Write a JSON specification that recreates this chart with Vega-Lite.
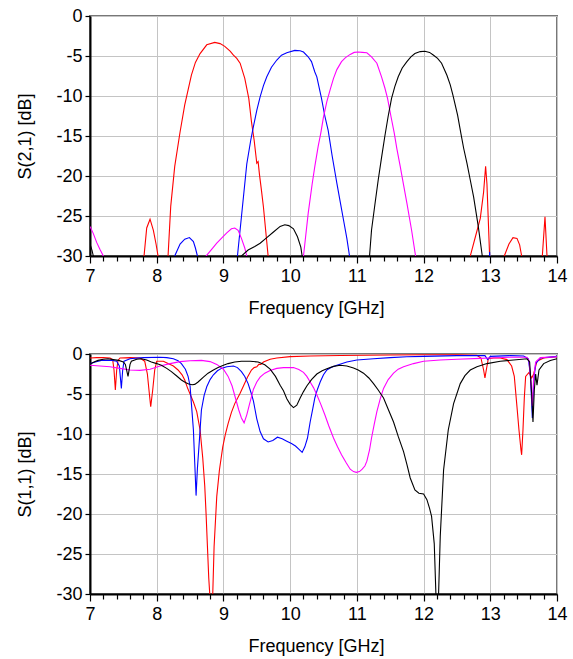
{
  "$schema": "https://vega.github.io/schema/vega-lite/v6.json",
  "autosize": {"type": "pad"},
  "padding": {"top": 6, "left": 15, "right": 10, "bottom": 5},
  "background": "white",
  "spacing": 98,
  "bounds": "flush",
  "config": {
    "font": "Liberation Sans",
    "view": {"stroke": "#777777", "strokeWidth": 2},
    "axis": {
      "labelFont": "Liberation Sans", "labelFontSize": 18, "labelColor": "#000000",
      "titleFont": "Liberation Sans", "titleFontSize": 18, "titleFontWeight": "normal", "titleColor": "#000000",
      "gridColor": "#c4c4c4", "gridWidth": 1, "domainColor": "#000000", "domainWidth": 2,
      "tickColor": "#000000", "tickWidth": 1.2
    }
  },
  "datasets": {
    "s21": [
      {"f": 7.0, "db": -40, "s": "f1"}, {"f": 7.5, "db": -40, "s": "f1"}, {"f": 7.81, "db": -30, "s": "f1"}, {"f": 7.85, "db": -26.5, "s": "f1"}, {"f": 7.9, "db": -25.4, "s": "f1"}, {"f": 7.95, "db": -26.8, "s": "f1"}, {"f": 7.99, "db": -28.5, "s": "f1"}, {"f": 8.02, "db": -30, "s": "f1"}, {"f": 8.1, "db": -40, "s": "f1"}, {"f": 8.17, "db": -30, "s": "f1"}, {"f": 8.21, "db": -23.8, "s": "f1"}, {"f": 8.27, "db": -18.8, "s": "f1"}, {"f": 8.35, "db": -14.5, "s": "f1"}, {"f": 8.42, "db": -11.1, "s": "f1"}, {"f": 8.52, "db": -7.4, "s": "f1"}, {"f": 8.58, "db": -5.8, "s": "f1"}, {"f": 8.65, "db": -4.7, "s": "f1"}, {"f": 8.75, "db": -3.6, "s": "f1"}, {"f": 8.87, "db": -3.3, "s": "f1"}, {"f": 8.95, "db": -3.45, "s": "f1"}, {"f": 9.02, "db": -3.8, "s": "f1"}, {"f": 9.1, "db": -4.4, "s": "f1"}, {"f": 9.15, "db": -4.9, "s": "f1"}, {"f": 9.2, "db": -5.3, "s": "f1"}, {"f": 9.25, "db": -5.9, "s": "f1"}, {"f": 9.32, "db": -7.8, "s": "f1"}, {"f": 9.38, "db": -10.3, "s": "f1"}, {"f": 9.42, "db": -13.2, "s": "f1"}, {"f": 9.46, "db": -15.5, "s": "f1"}, {"f": 9.5, "db": -18.4, "s": "f1"}, {"f": 9.52, "db": -18.2, "s": "f1"}, {"f": 9.54, "db": -19.8, "s": "f1"}, {"f": 9.57, "db": -21.8, "s": "f1"}, {"f": 9.6, "db": -23.9, "s": "f1"}, {"f": 9.67, "db": -30, "s": "f1"}, {"f": 9.8, "db": -40, "s": "f1"}, {"f": 12.6, "db": -40, "s": "f1"}, {"f": 12.7, "db": -30, "s": "f1"}, {"f": 12.78, "db": -27.5, "s": "f1"}, {"f": 12.85, "db": -25.3, "s": "f1"}, {"f": 12.9, "db": -22, "s": "f1"}, {"f": 12.93, "db": -18.8, "s": "f1"}, {"f": 12.95, "db": -21, "s": "f1"}, {"f": 12.99, "db": -30, "s": "f1"}, {"f": 13.1, "db": -40, "s": "f1"}, {"f": 13.21, "db": -30, "s": "f1"}, {"f": 13.28, "db": -28.5, "s": "f1"}, {"f": 13.34, "db": -27.7, "s": "f1"}, {"f": 13.4, "db": -27.8, "s": "f1"}, {"f": 13.44, "db": -28.6, "s": "f1"}, {"f": 13.47, "db": -30, "s": "f1"}, {"f": 13.6, "db": -40, "s": "f1"}, {"f": 13.78, "db": -30, "s": "f1"}, {"f": 13.82, "db": -25.1, "s": "f1"}, {"f": 13.85, "db": -30, "s": "f1"}, {"f": 13.9, "db": -40, "s": "f1"}, {"f": 14.0, "db": -40, "s": "f1"},

      {"f": 7.0, "db": -40, "s": "f2"}, {"f": 8.1, "db": -40, "s": "f2"}, {"f": 8.27, "db": -30, "s": "f2"}, {"f": 8.35, "db": -28.5, "s": "f2"}, {"f": 8.42, "db": -27.9, "s": "f2"}, {"f": 8.49, "db": -27.7, "s": "f2"}, {"f": 8.55, "db": -28.2, "s": "f2"}, {"f": 8.58, "db": -29, "s": "f2"}, {"f": 8.61, "db": -30, "s": "f2"}, {"f": 8.9, "db": -40, "s": "f2"}, {"f": 9.21, "db": -30, "s": "f2"}, {"f": 9.27, "db": -25.1, "s": "f2"}, {"f": 9.35, "db": -18.5, "s": "f2"}, {"f": 9.41, "db": -15.5, "s": "f2"}, {"f": 9.45, "db": -13.8, "s": "f2"}, {"f": 9.5, "db": -11.8, "s": "f2"}, {"f": 9.55, "db": -10.1, "s": "f2"}, {"f": 9.6, "db": -8.7, "s": "f2"}, {"f": 9.65, "db": -7.6, "s": "f2"}, {"f": 9.72, "db": -6.4, "s": "f2"}, {"f": 9.8, "db": -5.5, "s": "f2"}, {"f": 9.87, "db": -4.9, "s": "f2"}, {"f": 9.95, "db": -4.6, "s": "f2"}, {"f": 10.07, "db": -4.3, "s": "f2"}, {"f": 10.15, "db": -4.35, "s": "f2"}, {"f": 10.2, "db": -4.5, "s": "f2"}, {"f": 10.27, "db": -5.1, "s": "f2"}, {"f": 10.32, "db": -5.7, "s": "f2"}, {"f": 10.37, "db": -7.0, "s": "f2"}, {"f": 10.4, "db": -7.6, "s": "f2"}, {"f": 10.47, "db": -10.3, "s": "f2"}, {"f": 10.52, "db": -12.5, "s": "f2"}, {"f": 10.57, "db": -14.3, "s": "f2"}, {"f": 10.63, "db": -17.5, "s": "f2"}, {"f": 10.7, "db": -20.9, "s": "f2"}, {"f": 10.75, "db": -23.2, "s": "f2"}, {"f": 10.8, "db": -25.5, "s": "f2"}, {"f": 10.85, "db": -27.8, "s": "f2"}, {"f": 10.89, "db": -30, "s": "f2"}, {"f": 11.2, "db": -40, "s": "f2"}, {"f": 12.95, "db": -40, "s": "f2"}, {"f": 12.99, "db": -29.5, "s": "f2"}, {"f": 13.02, "db": -40, "s": "f2"}, {"f": 14.0, "db": -40, "s": "f2"},

      {"f": 7.0, "db": -26.3, "s": "f3"}, {"f": 7.05, "db": -27.2, "s": "f3"}, {"f": 7.1, "db": -28.3, "s": "f3"}, {"f": 7.15, "db": -29.2, "s": "f3"}, {"f": 7.2, "db": -30, "s": "f3"}, {"f": 7.5, "db": -40, "s": "f3"}, {"f": 8.6, "db": -40, "s": "f3"}, {"f": 8.74, "db": -30, "s": "f3"}, {"f": 8.82, "db": -29.2, "s": "f3"}, {"f": 8.9, "db": -28.4, "s": "f3"}, {"f": 8.98, "db": -27.7, "s": "f3"}, {"f": 9.05, "db": -27.1, "s": "f3"}, {"f": 9.12, "db": -26.6, "s": "f3"}, {"f": 9.17, "db": -26.5, "s": "f3"}, {"f": 9.22, "db": -26.8, "s": "f3"}, {"f": 9.27, "db": -27.8, "s": "f3"}, {"f": 9.32, "db": -29, "s": "f3"}, {"f": 9.35, "db": -30, "s": "f3"}, {"f": 9.7, "db": -40, "s": "f3"}, {"f": 10.2, "db": -30, "s": "f3"}, {"f": 10.27, "db": -24.7, "s": "f3"}, {"f": 10.33, "db": -21, "s": "f3"}, {"f": 10.37, "db": -18.8, "s": "f3"}, {"f": 10.42, "db": -16.3, "s": "f3"}, {"f": 10.46, "db": -14.6, "s": "f3"}, {"f": 10.5, "db": -12.6, "s": "f3"}, {"f": 10.55, "db": -10.7, "s": "f3"}, {"f": 10.6, "db": -9.2, "s": "f3"}, {"f": 10.65, "db": -7.8, "s": "f3"}, {"f": 10.7, "db": -6.7, "s": "f3"}, {"f": 10.77, "db": -5.7, "s": "f3"}, {"f": 10.83, "db": -5.2, "s": "f3"}, {"f": 10.9, "db": -4.8, "s": "f3"}, {"f": 10.96, "db": -4.55, "s": "f3"}, {"f": 11.02, "db": -4.5, "s": "f3"}, {"f": 11.08, "db": -4.55, "s": "f3"}, {"f": 11.15, "db": -4.6, "s": "f3"}, {"f": 11.22, "db": -5.1, "s": "f3"}, {"f": 11.3, "db": -5.9, "s": "f3"}, {"f": 11.37, "db": -7.6, "s": "f3"}, {"f": 11.42, "db": -9.0, "s": "f3"}, {"f": 11.46, "db": -10.3, "s": "f3"}, {"f": 11.51, "db": -12.5, "s": "f3"}, {"f": 11.56, "db": -14.6, "s": "f3"}, {"f": 11.6, "db": -16.6, "s": "f3"}, {"f": 11.65, "db": -18.8, "s": "f3"}, {"f": 11.7, "db": -21.1, "s": "f3"}, {"f": 11.75, "db": -23.4, "s": "f3"}, {"f": 11.82, "db": -26.75, "s": "f3"}, {"f": 11.88, "db": -30, "s": "f3"}, {"f": 12.2, "db": -40, "s": "f3"}, {"f": 14.0, "db": -40, "s": "f3"},

      {"f": 7.0, "db": -28.5, "s": "f4"}, {"f": 7.03, "db": -29.3, "s": "f4"}, {"f": 7.05, "db": -30, "s": "f4"}, {"f": 7.3, "db": -40, "s": "f4"}, {"f": 9.1, "db": -40, "s": "f4"}, {"f": 9.27, "db": -30, "s": "f4"}, {"f": 9.37, "db": -29.25, "s": "f4"}, {"f": 9.47, "db": -28.8, "s": "f4"}, {"f": 9.55, "db": -28.4, "s": "f4"}, {"f": 9.65, "db": -27.7, "s": "f4"}, {"f": 9.75, "db": -27.0, "s": "f4"}, {"f": 9.85, "db": -26.3, "s": "f4"}, {"f": 9.92, "db": -26.1, "s": "f4"}, {"f": 9.98, "db": -26.2, "s": "f4"}, {"f": 10.05, "db": -26.6, "s": "f4"}, {"f": 10.11, "db": -27.6, "s": "f4"}, {"f": 10.16, "db": -28.9, "s": "f4"}, {"f": 10.18, "db": -30, "s": "f4"}, {"f": 10.6, "db": -40, "s": "f4"}, {"f": 11.19, "db": -30, "s": "f4"}, {"f": 11.22, "db": -26.75, "s": "f4"}, {"f": 11.27, "db": -23.6, "s": "f4"}, {"f": 11.32, "db": -20.5, "s": "f4"}, {"f": 11.37, "db": -17.7, "s": "f4"}, {"f": 11.42, "db": -15.0, "s": "f4"}, {"f": 11.47, "db": -12.5, "s": "f4"}, {"f": 11.52, "db": -10.3, "s": "f4"}, {"f": 11.57, "db": -8.8, "s": "f4"}, {"f": 11.62, "db": -7.6, "s": "f4"}, {"f": 11.68, "db": -6.5, "s": "f4"}, {"f": 11.75, "db": -5.7, "s": "f4"}, {"f": 11.81, "db": -5.1, "s": "f4"}, {"f": 11.87, "db": -4.7, "s": "f4"}, {"f": 11.95, "db": -4.45, "s": "f4"}, {"f": 12.02, "db": -4.4, "s": "f4"}, {"f": 12.09, "db": -4.55, "s": "f4"}, {"f": 12.15, "db": -4.9, "s": "f4"}, {"f": 12.21, "db": -5.3, "s": "f4"}, {"f": 12.27, "db": -5.9, "s": "f4"}, {"f": 12.35, "db": -7.4, "s": "f4"}, {"f": 12.4, "db": -8.6, "s": "f4"}, {"f": 12.44, "db": -9.9, "s": "f4"}, {"f": 12.51, "db": -12.4, "s": "f4"}, {"f": 12.56, "db": -14.7, "s": "f4"}, {"f": 12.6, "db": -16.5, "s": "f4"}, {"f": 12.65, "db": -18.4, "s": "f4"}, {"f": 12.7, "db": -20.5, "s": "f4"}, {"f": 12.75, "db": -22.6, "s": "f4"}, {"f": 12.82, "db": -26.3, "s": "f4"}, {"f": 12.88, "db": -30, "s": "f4"}, {"f": 13.2, "db": -40, "s": "f4"}, {"f": 14.0, "db": -40, "s": "f4"}
    ],
    "s11": [
      {"f": 7.0, "db": -0.5, "s": "f1"}, {"f": 7.1, "db": -0.45, "s": "f1"}, {"f": 7.2, "db": -0.45, "s": "f1"}, {"f": 7.3, "db": -0.5, "s": "f1"}, {"f": 7.34, "db": -0.7, "s": "f1"}, {"f": 7.36, "db": -2.0, "s": "f1"}, {"f": 7.38, "db": -4.5, "s": "f1"}, {"f": 7.4, "db": -2.0, "s": "f1"}, {"f": 7.42, "db": -0.8, "s": "f1"}, {"f": 7.45, "db": -0.5, "s": "f1"}, {"f": 7.6, "db": -0.45, "s": "f1"}, {"f": 7.75, "db": -0.5, "s": "f1"}, {"f": 7.82, "db": -0.9, "s": "f1"}, {"f": 7.86, "db": -2.5, "s": "f1"}, {"f": 7.89, "db": -5.0, "s": "f1"}, {"f": 7.91, "db": -6.6, "s": "f1"}, {"f": 7.94, "db": -4.5, "s": "f1"}, {"f": 7.97, "db": -2.0, "s": "f1"}, {"f": 8.0, "db": -0.9, "s": "f1"}, {"f": 8.1, "db": -0.9, "s": "f1"}, {"f": 8.17, "db": -1.2, "s": "f1"}, {"f": 8.25, "db": -1.5, "s": "f1"}, {"f": 8.32, "db": -2.0, "s": "f1"}, {"f": 8.38, "db": -2.6, "s": "f1"}, {"f": 8.42, "db": -3.25, "s": "f1"}, {"f": 8.46, "db": -4.2, "s": "f1"}, {"f": 8.5, "db": -5.0, "s": "f1"}, {"f": 8.55, "db": -6.0, "s": "f1"}, {"f": 8.6, "db": -7.2, "s": "f1"}, {"f": 8.65, "db": -9.5, "s": "f1"}, {"f": 8.69, "db": -13.0, "s": "f1"}, {"f": 8.72, "db": -16.5, "s": "f1"}, {"f": 8.74, "db": -20, "s": "f1"}, {"f": 8.76, "db": -24, "s": "f1"}, {"f": 8.78, "db": -28, "s": "f1"}, {"f": 8.795, "db": -30, "s": "f1"}, {"f": 8.81, "db": -35, "s": "f1"}, {"f": 8.825, "db": -35, "s": "f1"}, {"f": 8.84, "db": -30, "s": "f1"}, {"f": 8.86, "db": -24.1, "s": "f1"}, {"f": 8.9, "db": -17.8, "s": "f1"}, {"f": 8.94, "db": -14.5, "s": "f1"}, {"f": 8.99, "db": -11.6, "s": "f1"}, {"f": 9.03, "db": -10.0, "s": "f1"}, {"f": 9.07, "db": -8.7, "s": "f1"}, {"f": 9.12, "db": -7.3, "s": "f1"}, {"f": 9.17, "db": -6.2, "s": "f1"}, {"f": 9.25, "db": -4.9, "s": "f1"}, {"f": 9.3, "db": -4.0, "s": "f1"}, {"f": 9.36, "db": -2.9, "s": "f1"}, {"f": 9.42, "db": -2.0, "s": "f1"}, {"f": 9.46, "db": -1.7, "s": "f1"}, {"f": 9.5, "db": -1.6, "s": "f1"}, {"f": 9.53, "db": -1.3, "s": "f1"}, {"f": 9.56, "db": -1.3, "s": "f1"}, {"f": 9.6, "db": -1.0, "s": "f1"}, {"f": 9.7, "db": -0.65, "s": "f1"}, {"f": 9.8, "db": -0.5, "s": "f1"}, {"f": 10.0, "db": -0.33, "s": "f1"}, {"f": 10.3, "db": -0.25, "s": "f1"}, {"f": 10.75, "db": -0.18, "s": "f1"}, {"f": 11.5, "db": -0.12, "s": "f1"}, {"f": 12.0, "db": -0.1, "s": "f1"}, {"f": 12.5, "db": -0.1, "s": "f1"}, {"f": 12.8, "db": -0.15, "s": "f1"}, {"f": 12.86, "db": -0.5, "s": "f1"}, {"f": 12.9, "db": -2.0, "s": "f1"}, {"f": 12.92, "db": -3.0, "s": "f1"}, {"f": 12.94, "db": -2.0, "s": "f1"}, {"f": 12.97, "db": -0.6, "s": "f1"}, {"f": 13.05, "db": -0.5, "s": "f1"}, {"f": 13.15, "db": -0.5, "s": "f1"}, {"f": 13.25, "db": -0.7, "s": "f1"}, {"f": 13.32, "db": -1.5, "s": "f1"}, {"f": 13.36, "db": -2.8, "s": "f1"}, {"f": 13.4, "db": -6.6, "s": "f1"}, {"f": 13.43, "db": -9.5, "s": "f1"}, {"f": 13.46, "db": -12.0, "s": "f1"}, {"f": 13.47, "db": -12.6, "s": "f1"}, {"f": 13.49, "db": -9.5, "s": "f1"}, {"f": 13.51, "db": -5.5, "s": "f1"}, {"f": 13.53, "db": -2.8, "s": "f1"}, {"f": 13.58, "db": -2.3, "s": "f1"}, {"f": 13.62, "db": -3.0, "s": "f1"}, {"f": 13.65, "db": -2.5, "s": "f1"}, {"f": 13.7, "db": -0.9, "s": "f1"}, {"f": 13.8, "db": -0.5, "s": "f1"}, {"f": 14.0, "db": -0.35, "s": "f1"},

      {"f": 7.0, "db": -1.2, "s": "f2"}, {"f": 7.08, "db": -1.0, "s": "f2"}, {"f": 7.17, "db": -0.8, "s": "f2"}, {"f": 7.33, "db": -0.8, "s": "f2"}, {"f": 7.4, "db": -0.9, "s": "f2"}, {"f": 7.44, "db": -1.5, "s": "f2"}, {"f": 7.47, "db": -4.3, "s": "f2"}, {"f": 7.49, "db": -2.0, "s": "f2"}, {"f": 7.51, "db": -0.9, "s": "f2"}, {"f": 7.6, "db": -0.6, "s": "f2"}, {"f": 7.67, "db": -0.54, "s": "f2"}, {"f": 7.8, "db": -0.45, "s": "f2"}, {"f": 8.05, "db": -0.4, "s": "f2"}, {"f": 8.15, "db": -0.45, "s": "f2"}, {"f": 8.25, "db": -0.6, "s": "f2"}, {"f": 8.32, "db": -0.85, "s": "f2"}, {"f": 8.37, "db": -1.2, "s": "f2"}, {"f": 8.43, "db": -1.9, "s": "f2"}, {"f": 8.47, "db": -2.8, "s": "f2"}, {"f": 8.5, "db": -4.0, "s": "f2"}, {"f": 8.52, "db": -6.2, "s": "f2"}, {"f": 8.55, "db": -9.5, "s": "f2"}, {"f": 8.57, "db": -13.6, "s": "f2"}, {"f": 8.59, "db": -17.7, "s": "f2"}, {"f": 8.61, "db": -14.3, "s": "f2"}, {"f": 8.64, "db": -10.75, "s": "f2"}, {"f": 8.67, "db": -7.0, "s": "f2"}, {"f": 8.71, "db": -5.2, "s": "f2"}, {"f": 8.75, "db": -4.1, "s": "f2"}, {"f": 8.8, "db": -3.2, "s": "f2"}, {"f": 8.85, "db": -2.6, "s": "f2"}, {"f": 8.91, "db": -2.1, "s": "f2"}, {"f": 8.97, "db": -1.8, "s": "f2"}, {"f": 9.05, "db": -1.6, "s": "f2"}, {"f": 9.15, "db": -1.5, "s": "f2"}, {"f": 9.21, "db": -1.7, "s": "f2"}, {"f": 9.27, "db": -2.2, "s": "f2"}, {"f": 9.32, "db": -2.8, "s": "f2"}, {"f": 9.37, "db": -3.7, "s": "f2"}, {"f": 9.42, "db": -5.0, "s": "f2"}, {"f": 9.45, "db": -5.9, "s": "f2"}, {"f": 9.5, "db": -8.1, "s": "f2"}, {"f": 9.55, "db": -9.7, "s": "f2"}, {"f": 9.6, "db": -10.6, "s": "f2"}, {"f": 9.67, "db": -11.0, "s": "f2"}, {"f": 9.74, "db": -10.8, "s": "f2"}, {"f": 9.81, "db": -10.4, "s": "f2"}, {"f": 9.88, "db": -10.6, "s": "f2"}, {"f": 9.95, "db": -10.9, "s": "f2"}, {"f": 10.02, "db": -11.2, "s": "f2"}, {"f": 10.08, "db": -11.5, "s": "f2"}, {"f": 10.13, "db": -11.9, "s": "f2"}, {"f": 10.18, "db": -12.3, "s": "f2"}, {"f": 10.22, "db": -11.6, "s": "f2"}, {"f": 10.26, "db": -10.5, "s": "f2"}, {"f": 10.3, "db": -8.5, "s": "f2"}, {"f": 10.34, "db": -6.8, "s": "f2"}, {"f": 10.37, "db": -5.5, "s": "f2"}, {"f": 10.41, "db": -4.4, "s": "f2"}, {"f": 10.45, "db": -3.5, "s": "f2"}, {"f": 10.5, "db": -2.6, "s": "f2"}, {"f": 10.55, "db": -2.0, "s": "f2"}, {"f": 10.62, "db": -1.65, "s": "f2"}, {"f": 10.7, "db": -1.4, "s": "f2"}, {"f": 10.85, "db": -1.0, "s": "f2"}, {"f": 11.0, "db": -0.75, "s": "f2"}, {"f": 11.25, "db": -0.6, "s": "f2"}, {"f": 11.5, "db": -0.45, "s": "f2"}, {"f": 11.75, "db": -0.35, "s": "f2"}, {"f": 12.0, "db": -0.3, "s": "f2"}, {"f": 12.5, "db": -0.2, "s": "f2"}, {"f": 12.92, "db": -0.2, "s": "f2"}, {"f": 12.96, "db": -0.7, "s": "f2"}, {"f": 13.0, "db": -0.3, "s": "f2"}, {"f": 13.3, "db": -0.2, "s": "f2"}, {"f": 13.5, "db": -0.25, "s": "f2"}, {"f": 13.57, "db": -0.6, "s": "f2"}, {"f": 13.6, "db": -2.5, "s": "f2"}, {"f": 13.62, "db": -6.0, "s": "f2"}, {"f": 13.63, "db": -8.0, "s": "f2"}, {"f": 13.65, "db": -3.5, "s": "f2"}, {"f": 13.68, "db": -1.2, "s": "f2"}, {"f": 13.75, "db": -0.5, "s": "f2"}, {"f": 14.0, "db": -0.3, "s": "f2"},

      {"f": 7.0, "db": -1.4, "s": "f3"}, {"f": 7.15, "db": -1.5, "s": "f3"}, {"f": 7.3, "db": -1.6, "s": "f3"}, {"f": 7.45, "db": -1.8, "s": "f3"}, {"f": 7.6, "db": -2.0, "s": "f3"}, {"f": 7.75, "db": -2.05, "s": "f3"}, {"f": 7.9, "db": -1.9, "s": "f3"}, {"f": 8.05, "db": -1.5, "s": "f3"}, {"f": 8.2, "db": -1.2, "s": "f3"}, {"f": 8.35, "db": -0.95, "s": "f3"}, {"f": 8.5, "db": -0.85, "s": "f3"}, {"f": 8.67, "db": -0.8, "s": "f3"}, {"f": 8.8, "db": -0.95, "s": "f3"}, {"f": 8.9, "db": -1.3, "s": "f3"}, {"f": 9.0, "db": -1.9, "s": "f3"}, {"f": 9.07, "db": -2.8, "s": "f3"}, {"f": 9.13, "db": -4.0, "s": "f3"}, {"f": 9.18, "db": -5.5, "s": "f3"}, {"f": 9.23, "db": -7.0, "s": "f3"}, {"f": 9.27, "db": -8.0, "s": "f3"}, {"f": 9.31, "db": -8.6, "s": "f3"}, {"f": 9.35, "db": -7.6, "s": "f3"}, {"f": 9.39, "db": -6.3, "s": "f3"}, {"f": 9.45, "db": -4.4, "s": "f3"}, {"f": 9.5, "db": -3.5, "s": "f3"}, {"f": 9.55, "db": -2.9, "s": "f3"}, {"f": 9.62, "db": -2.4, "s": "f3"}, {"f": 9.7, "db": -2.05, "s": "f3"}, {"f": 9.8, "db": -1.8, "s": "f3"}, {"f": 9.9, "db": -1.7, "s": "f3"}, {"f": 10.05, "db": -1.7, "s": "f3"}, {"f": 10.13, "db": -1.95, "s": "f3"}, {"f": 10.2, "db": -2.3, "s": "f3"}, {"f": 10.25, "db": -2.8, "s": "f3"}, {"f": 10.3, "db": -3.5, "s": "f3"}, {"f": 10.35, "db": -4.2, "s": "f3"}, {"f": 10.4, "db": -5.1, "s": "f3"}, {"f": 10.46, "db": -6.3, "s": "f3"}, {"f": 10.52, "db": -7.6, "s": "f3"}, {"f": 10.58, "db": -9.0, "s": "f3"}, {"f": 10.65, "db": -10.5, "s": "f3"}, {"f": 10.71, "db": -11.6, "s": "f3"}, {"f": 10.77, "db": -12.6, "s": "f3"}, {"f": 10.84, "db": -13.6, "s": "f3"}, {"f": 10.9, "db": -14.4, "s": "f3"}, {"f": 10.95, "db": -14.7, "s": "f3"}, {"f": 10.99, "db": -14.8, "s": "f3"}, {"f": 11.04, "db": -14.7, "s": "f3"}, {"f": 11.08, "db": -14.4, "s": "f3"}, {"f": 11.12, "db": -14.0, "s": "f3"}, {"f": 11.15, "db": -13.4, "s": "f3"}, {"f": 11.19, "db": -12.0, "s": "f3"}, {"f": 11.22, "db": -10.5, "s": "f3"}, {"f": 11.26, "db": -8.8, "s": "f3"}, {"f": 11.3, "db": -7.2, "s": "f3"}, {"f": 11.35, "db": -5.6, "s": "f3"}, {"f": 11.4, "db": -4.3, "s": "f3"}, {"f": 11.47, "db": -3.2, "s": "f3"}, {"f": 11.55, "db": -2.4, "s": "f3"}, {"f": 11.62, "db": -1.9, "s": "f3"}, {"f": 11.7, "db": -1.6, "s": "f3"}, {"f": 11.85, "db": -1.2, "s": "f3"}, {"f": 12.0, "db": -0.9, "s": "f3"}, {"f": 12.25, "db": -0.75, "s": "f3"}, {"f": 12.5, "db": -0.65, "s": "f3"}, {"f": 12.85, "db": -0.55, "s": "f3"}, {"f": 13.0, "db": -0.5, "s": "f3"}, {"f": 13.3, "db": -0.4, "s": "f3"}, {"f": 13.55, "db": -0.4, "s": "f3"}, {"f": 13.58, "db": -0.8, "s": "f3"}, {"f": 13.61, "db": -3.5, "s": "f3"}, {"f": 13.63, "db": -6.5, "s": "f3"}, {"f": 13.65, "db": -3.0, "s": "f3"}, {"f": 13.68, "db": -1.0, "s": "f3"}, {"f": 13.75, "db": -0.45, "s": "f3"}, {"f": 14.0, "db": -0.35, "s": "f3"},

      {"f": 7.0, "db": -1.25, "s": "f4"}, {"f": 7.06, "db": -1.0, "s": "f4"}, {"f": 7.12, "db": -0.8, "s": "f4"}, {"f": 7.2, "db": -0.65, "s": "f4"}, {"f": 7.27, "db": -0.6, "s": "f4"}, {"f": 7.35, "db": -0.7, "s": "f4"}, {"f": 7.43, "db": -0.8, "s": "f4"}, {"f": 7.5, "db": -1.0, "s": "f4"}, {"f": 7.53, "db": -1.3, "s": "f4"}, {"f": 7.57, "db": -2.8, "s": "f4"}, {"f": 7.6, "db": -1.3, "s": "f4"}, {"f": 7.62, "db": -0.9, "s": "f4"}, {"f": 7.7, "db": -0.65, "s": "f4"}, {"f": 7.77, "db": -0.6, "s": "f4"}, {"f": 7.85, "db": -0.75, "s": "f4"}, {"f": 7.92, "db": -1.0, "s": "f4"}, {"f": 8.0, "db": -1.2, "s": "f4"}, {"f": 8.07, "db": -1.4, "s": "f4"}, {"f": 8.15, "db": -1.8, "s": "f4"}, {"f": 8.22, "db": -2.2, "s": "f4"}, {"f": 8.3, "db": -2.75, "s": "f4"}, {"f": 8.37, "db": -3.25, "s": "f4"}, {"f": 8.43, "db": -3.55, "s": "f4"}, {"f": 8.48, "db": -3.75, "s": "f4"}, {"f": 8.53, "db": -3.85, "s": "f4"}, {"f": 8.57, "db": -3.8, "s": "f4"}, {"f": 8.62, "db": -3.5, "s": "f4"}, {"f": 8.7, "db": -2.9, "s": "f4"}, {"f": 8.77, "db": -2.4, "s": "f4"}, {"f": 8.85, "db": -2.0, "s": "f4"}, {"f": 8.92, "db": -1.7, "s": "f4"}, {"f": 9.0, "db": -1.4, "s": "f4"}, {"f": 9.07, "db": -1.2, "s": "f4"}, {"f": 9.17, "db": -1.0, "s": "f4"}, {"f": 9.27, "db": -0.9, "s": "f4"}, {"f": 9.4, "db": -0.9, "s": "f4"}, {"f": 9.52, "db": -1.0, "s": "f4"}, {"f": 9.62, "db": -1.35, "s": "f4"}, {"f": 9.7, "db": -1.9, "s": "f4"}, {"f": 9.78, "db": -2.8, "s": "f4"}, {"f": 9.85, "db": -3.9, "s": "f4"}, {"f": 9.9, "db": -4.6, "s": "f4"}, {"f": 9.95, "db": -5.6, "s": "f4"}, {"f": 10.0, "db": -6.3, "s": "f4"}, {"f": 10.05, "db": -6.7, "s": "f4"}, {"f": 10.1, "db": -6.4, "s": "f4"}, {"f": 10.15, "db": -5.5, "s": "f4"}, {"f": 10.2, "db": -4.7, "s": "f4"}, {"f": 10.25, "db": -4.0, "s": "f4"}, {"f": 10.32, "db": -3.2, "s": "f4"}, {"f": 10.4, "db": -2.5, "s": "f4"}, {"f": 10.48, "db": -2.1, "s": "f4"}, {"f": 10.55, "db": -1.85, "s": "f4"}, {"f": 10.65, "db": -1.55, "s": "f4"}, {"f": 10.75, "db": -1.4, "s": "f4"}, {"f": 10.85, "db": -1.5, "s": "f4"}, {"f": 10.95, "db": -1.75, "s": "f4"}, {"f": 11.02, "db": -2.0, "s": "f4"}, {"f": 11.1, "db": -2.4, "s": "f4"}, {"f": 11.18, "db": -3.0, "s": "f4"}, {"f": 11.25, "db": -3.7, "s": "f4"}, {"f": 11.32, "db": -4.5, "s": "f4"}, {"f": 11.4, "db": -5.5, "s": "f4"}, {"f": 11.47, "db": -6.9, "s": "f4"}, {"f": 11.55, "db": -8.5, "s": "f4"}, {"f": 11.62, "db": -10.3, "s": "f4"}, {"f": 11.7, "db": -12.2, "s": "f4"}, {"f": 11.75, "db": -13.8, "s": "f4"}, {"f": 11.8, "db": -15.5, "s": "f4"}, {"f": 11.87, "db": -17.0, "s": "f4"}, {"f": 11.93, "db": -17.4, "s": "f4"}, {"f": 12.0, "db": -17.5, "s": "f4"}, {"f": 12.05, "db": -18.2, "s": "f4"}, {"f": 12.09, "db": -19.3, "s": "f4"}, {"f": 12.12, "db": -20.3, "s": "f4"}, {"f": 12.16, "db": -23.7, "s": "f4"}, {"f": 12.185, "db": -30, "s": "f4"}, {"f": 12.2, "db": -34, "s": "f4"}, {"f": 12.21, "db": -34, "s": "f4"}, {"f": 12.225, "db": -30, "s": "f4"}, {"f": 12.25, "db": -22.8, "s": "f4"}, {"f": 12.3, "db": -14.5, "s": "f4"}, {"f": 12.37, "db": -9.5, "s": "f4"}, {"f": 12.45, "db": -6.2, "s": "f4"}, {"f": 12.55, "db": -3.7, "s": "f4"}, {"f": 12.62, "db": -2.7, "s": "f4"}, {"f": 12.7, "db": -2.0, "s": "f4"}, {"f": 12.8, "db": -1.6, "s": "f4"}, {"f": 12.95, "db": -1.2, "s": "f4"}, {"f": 13.15, "db": -0.9, "s": "f4"}, {"f": 13.35, "db": -0.75, "s": "f4"}, {"f": 13.55, "db": -0.6, "s": "f4"}, {"f": 13.59, "db": -1.0, "s": "f4"}, {"f": 13.62, "db": -5.0, "s": "f4"}, {"f": 13.64, "db": -8.5, "s": "f4"}, {"f": 13.66, "db": -4.5, "s": "f4"}, {"f": 13.68, "db": -2.5, "s": "f4"}, {"f": 13.7, "db": -3.9, "s": "f4"}, {"f": 13.73, "db": -2.0, "s": "f4"}, {"f": 13.8, "db": -1.2, "s": "f4"}, {"f": 13.9, "db": -0.8, "s": "f4"}, {"f": 14.0, "db": -0.6, "s": "f4"}
    ]
  },
  "vconcat": [
    {
      "width": 467, "height": 240,
      "data": {"name": "s21"},
      "mark": {"type": "line", "clip": true, "strokeWidth": 1.1},
      "encoding": {
        "x": {"field": "f", "type": "quantitative",
          "scale": {"domain": [7, 14], "nice": false, "zero": false},
          "axis": {"title": "Frequency [GHz]", "values": [7, 7.2, 7.4, 7.6, 7.8, 8, 8.2, 8.4, 8.6, 8.8, 9, 9.2, 9.4, 9.6, 9.8, 10, 10.2, 10.4, 10.6, 10.8, 11, 11.2, 11.4, 11.6, 11.8, 12, 12.2, 12.4, 12.6, 12.8, 13, 13.2, 13.4, 13.6, 13.8, 14],
            "labelExpr": "abs(datum.value - round(datum.value)) < 0.01 ? format(round(datum.value), 'd') : ''",
            "labelOverlap": false, "labelFlush": false, "labelPadding": 4,
            "tickSize": {"condition": {"test": "abs(datum.value - round(datum.value)) < 0.01", "value": 7}, "value": 5},
            "gridOpacity": {"condition": {"test": "abs(datum.value - round(datum.value)) < 0.01", "value": 1}, "value": 0},
            "titlePadding": 14, "titleX": 226, "titleAlign": "center"}},
        "y": {"field": "db", "type": "quantitative",
          "scale": {"domain": [-30, 0], "nice": false, "zero": false},
          "axis": {"title": "S(2,1) [dB]", "values": [0, -5, -10, -15, -20, -25, -30],
            "labelExpr": "datum.value == 0 ? '0' : '-' + format(abs(datum.value), 'd')",
            "tickSize": 5, "labelPadding": 3, "titlePadding": 21, "labelFlush": false}},
        "color": {"field": "s", "type": "nominal", "legend": null,
          "scale": {"domain": ["f1", "f2", "f3", "f4"], "range": ["#ff0000", "#0000ff", "#ff00ff", "#000000"]}}
      }
    },
    {
      "width": 467, "height": 240,
      "data": {"name": "s11"},
      "mark": {"type": "line", "clip": true, "strokeWidth": 1.1},
      "encoding": {
        "x": {"field": "f", "type": "quantitative",
          "scale": {"domain": [7, 14], "nice": false, "zero": false},
          "axis": {"title": "Frequency [GHz]", "values": [7, 7.2, 7.4, 7.6, 7.8, 8, 8.2, 8.4, 8.6, 8.8, 9, 9.2, 9.4, 9.6, 9.8, 10, 10.2, 10.4, 10.6, 10.8, 11, 11.2, 11.4, 11.6, 11.8, 12, 12.2, 12.4, 12.6, 12.8, 13, 13.2, 13.4, 13.6, 13.8, 14],
            "labelExpr": "abs(datum.value - round(datum.value)) < 0.01 ? format(round(datum.value), 'd') : ''",
            "labelOverlap": false, "labelFlush": false, "labelPadding": 4,
            "tickSize": {"condition": {"test": "abs(datum.value - round(datum.value)) < 0.01", "value": 7}, "value": 5},
            "gridOpacity": {"condition": {"test": "abs(datum.value - round(datum.value)) < 0.01", "value": 1}, "value": 0},
            "titlePadding": 14, "titleX": 226, "titleAlign": "center"}},
        "y": {"field": "db", "type": "quantitative",
          "scale": {"domain": [-30, 0], "nice": false, "zero": false},
          "axis": {"title": "S(1,1) [dB]", "values": [0, -5, -10, -15, -20, -25, -30],
            "labelExpr": "datum.value == 0 ? '0' : '-' + format(abs(datum.value), 'd')",
            "tickSize": 5, "labelPadding": 3, "titlePadding": 21, "labelFlush": false}},
        "color": {"field": "s", "type": "nominal", "legend": null,
          "scale": {"domain": ["f1", "f2", "f3", "f4"], "range": ["#ff0000", "#0000ff", "#ff00ff", "#000000"]}}
      }
    }
  ]
}
